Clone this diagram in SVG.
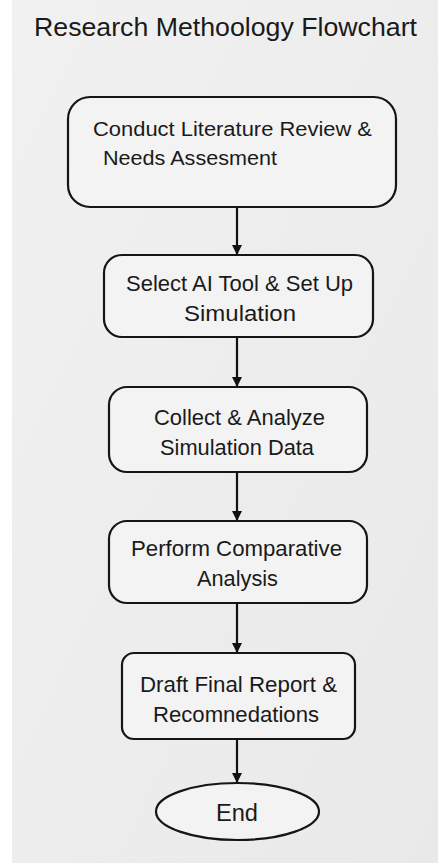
<svg xmlns="http://www.w3.org/2000/svg" width="438" height="863" viewBox="0 0 438 863">
<defs>
<linearGradient id="bg" x1="0" y1="0" x2="1" y2="1">
<stop offset="0" stop-color="#f1f1f1"/>
<stop offset="1" stop-color="#e9e9e9"/>
</linearGradient>
<marker id="ah" viewBox="0 0 10 10" refX="10" refY="5" markerWidth="10" markerHeight="10" markerUnits="userSpaceOnUse" orient="auto">
<path d="M0,0 L10,5 L0,10 Z" fill="#111"/>
</marker>
</defs>
<style>
.box{fill:#f3f3f3;stroke:#151515;stroke-width:2.2}
.t{font-family:"Liberation Sans",Arial,sans-serif;fill:#1a1a1a}
.conn{stroke:#111;stroke-width:2.2;fill:none}
</style>
<rect x="0" y="0" width="438" height="863" fill="#ffffff"/>
<rect x="12" y="0" width="426" height="863" fill="url(#bg)"/>
<text class="t" x="34" y="36" font-size="26.5" textLength="383" lengthAdjust="spacingAndGlyphs">Research Methoology Flowchart</text>
<g id="connectors">
<line class="conn" x1="237" y1="207" x2="237" y2="255" marker-end="url(#ah)"/>
<line class="conn" x1="237" y1="337" x2="237" y2="387" marker-end="url(#ah)"/>
<line class="conn" x1="237" y1="472" x2="237" y2="521" marker-end="url(#ah)"/>
<line class="conn" x1="237" y1="603" x2="237" y2="653" marker-end="url(#ah)"/>
<line class="conn" x1="237" y1="739" x2="237" y2="783" marker-end="url(#ah)"/>
</g>
<g id="node1">
<rect class="box" x="68" y="97" width="328" height="110" rx="22"/>
<text class="t" x="93" y="136" font-size="20" textLength="279" lengthAdjust="spacingAndGlyphs">Conduct Literature Review &amp;</text>
<text class="t" x="103" y="165" font-size="20" textLength="174" lengthAdjust="spacingAndGlyphs">Needs Assesment</text>
</g>
<g id="node2">
<rect class="box" x="104" y="255" width="269" height="82" rx="18"/>
<text class="t" x="126" y="291" font-size="21.5" textLength="227" lengthAdjust="spacingAndGlyphs">Select AI Tool &amp; Set Up</text>
<text class="t" x="184" y="321" font-size="21.5" textLength="112" lengthAdjust="spacingAndGlyphs">Simulation</text>
</g>
<g id="node3">
<rect class="box" x="109" y="387" width="258" height="85" rx="18"/>
<text class="t" x="154" y="425" font-size="21.5" textLength="171" lengthAdjust="spacingAndGlyphs">Collect &amp; Analyze</text>
<text class="t" x="160" y="455" font-size="21.5" textLength="154" lengthAdjust="spacingAndGlyphs">Simulation Data</text>
</g>
<g id="node4">
<rect class="box" x="109" y="521" width="258" height="82" rx="18"/>
<text class="t" x="131" y="556" font-size="21.5" textLength="211" lengthAdjust="spacingAndGlyphs">Perform Comparative</text>
<text class="t" x="197" y="586" font-size="21.5" textLength="81" lengthAdjust="spacingAndGlyphs">Analysis</text>
</g>
<g id="node5">
<rect class="box" x="122" y="653" width="233" height="86" rx="12"/>
<text class="t" x="140" y="692" font-size="22" textLength="197" lengthAdjust="spacingAndGlyphs">Draft Final Report &amp;</text>
<text class="t" x="153" y="722" font-size="22" textLength="166" lengthAdjust="spacingAndGlyphs">Recomnedations</text>
</g>
<g id="end">
<ellipse class="box" cx="237.5" cy="811.5" rx="81.5" ry="28.5"/>
<text class="t" x="216" y="821" font-size="23" textLength="42" lengthAdjust="spacingAndGlyphs">End</text>
</g>
</svg>
